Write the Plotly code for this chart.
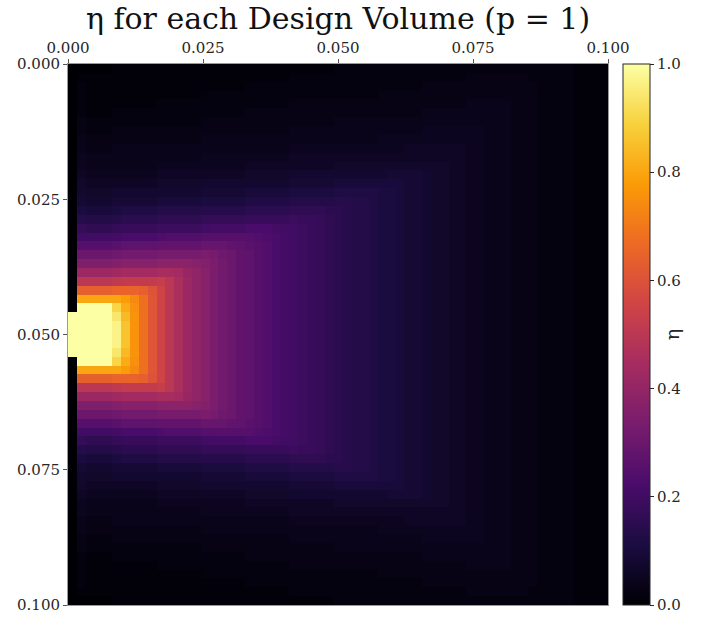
import plotly.graph_objects as go

# Design-volume grid: 61 x 61 cells over a 0.1 x 0.1 domain
n_cells = 61
domain = 0.1

tick_vals = [0.0, 0.025, 0.05, 0.075, 0.1]
tick_text = ["0.000", "0.025", "0.050", "0.075", "0.100"]
cbar_vals = [0.0, 0.2, 0.4, 0.6, 0.8, 1.0]
cbar_text = ["0.0", "0.2", "0.4", "0.6", "0.8", "1.0"]

# η in percent, one row per design-volume row, from the top edge (y = 0)
# down to the centre row (y = 0.05). The field is symmetric about y = 0.05.
eta_half_pct = [
    [0, 0,0,0,0, 1,1,1,1,1, 1,1,1,1,1, 1,1,1,1,1, 1,1,1,1,1, 1,1,1,1,1, 2,2,2,2,2, 2,2,2,2,2, 2,2,2,2,2, 2,2,2,2,2, 2,2,2, 2,2,2,2, 1,1,1,1],
    [0, 1,1,1,1, 1,1,1,1,1, 1,1,1,1,1, 1,1,1,1,1, 1,1,1,1,1, 2,2,2,2,2, 2,2,2,2,2, 2,2,2,2,2, 2,2,2,2,2, 3,3,3,3,3, 3,3,2, 2,2,2,2, 1,1,1,1],
    [0, 2,1,1,1, 1,1,1,1,1, 1,1,1,1,1, 1,1,1,1,1, 2,2,2,2,2, 2,2,2,2,2, 2,2,2,2,2, 2,2,2,2,2, 3,3,3,3,3, 3,3,3,3,3, 3,3,3, 2,2,2,2, 1,1,1,1],
    [0, 2,1,1,1, 1,1,1,1,1, 1,1,1,1,1, 2,2,2,2,2, 2,2,2,2,2, 2,2,2,2,2, 2,2,2,2,2, 3,3,3,3,3, 3,3,3,3,3, 3,3,3,3,3, 3,3,3, 2,2,2,2, 1,1,1,1],
    [0, 2,1,1,1, 1,1,1,1,1, 2,2,2,2,2, 2,2,2,2,2, 2,2,2,2,2, 3,3,3,3,3, 3,3,3,3,3, 3,3,3,3,3, 3,3,3,3,3, 4,4,4,4,4, 3,3,3, 2,2,2,2, 1,1,1,1],
    [0, 2,1,1,1, 2,2,2,2,2, 2,2,2,2,2, 2,2,2,2,2, 3,3,3,3,3, 3,3,3,3,3, 3,3,3,3,3, 3,3,3,3,3, 4,4,4,4,4, 4,4,4,4,4, 3,3,3, 2,2,2,2, 1,1,1,1],
    [0, 3,2,2,2, 2,2,2,2,2, 2,2,2,2,2, 3,3,3,3,3, 3,3,3,3,3, 3,3,3,3,3, 4,4,4,4,4, 4,4,4,4,4, 4,4,4,4,4, 4,4,4,4,4, 3,3,3, 2,2,2,2, 1,1,1,1],
    [0, 3,2,2,2, 3,3,3,3,3, 3,3,3,3,3, 3,3,3,3,3, 3,3,3,3,3, 4,4,4,4,4, 4,4,4,4,4, 4,4,4,4,4, 5,5,5,5,5, 5,5,4,4,4, 3,3,3, 2,2,2,2, 1,1,1,1],
    [0, 4,3,3,3, 3,3,3,3,3, 3,3,3,3,3, 4,4,4,4,4, 4,4,4,4,4, 4,4,4,4,4, 4,4,4,4,4, 5,5,5,5,5, 5,5,5,5,5, 5,5,4,4,4, 3,3,3, 2,2,2,2, 1,1,1,1],
    [0, 4,3,3,3, 4,4,4,4,4, 4,4,4,4,4, 4,4,4,4,4, 4,4,4,4,4, 5,5,5,5,5, 5,5,5,5,5, 5,5,5,6,6, 6,6,6,6,6, 5,5,4,4,4, 3,3,3, 2,2,2,2, 1,1,1,1],
    [0, 5,4,4,4, 4,4,4,4,4, 4,4,4,4,4, 5,5,5,5,5, 5,5,5,5,5, 6,6,6,6,6, 6,6,6,6,6, 6,6,6,6,6, 6,6,6,6,6, 5,5,4,4,4, 3,3,3, 2,2,2,2, 1,1,1,1],
    [0, 5,4,4,4, 4,4,4,4,4, 5,5,5,5,5, 5,5,5,5,5, 6,6,6,6,6, 6,6,6,6,6, 7,7,7,7,7, 7,7,7,7,7, 7,7,7,6,6, 5,5,4,4,4, 3,3,3, 2,2,2,2, 1,1,1,1],
    [0, 6,5,5,5, 5,5,5,5,5, 6,6,6,6,6, 6,6,6,6,6, 7,7,7,7,7, 8,8,8,8,8, 8,8,8,8,8, 8,9,9,9,9, 8,7,7,6,6, 5,5,4,4,4, 3,3,3, 2,2,2,2, 1,1,1,1],
    [0, 7,6,6,6, 6,6,6,6,6, 7,7,7,7,7, 8,8,8,8,8, 8,8,8,8,8, 9,9,9,9,9, 10,10,10,10,10, 10,10,10,9,9, 8,7,7,6,6, 5,5,4,4,4, 3,3,3, 2,2,2,2, 1,1,1,1],
    [0, 8,7,7,7, 8,8,8,8,8, 8,8,8,8,8, 9,9,9,9,9, 10,10,10,10,10, 11,11,11,11,11, 12,12,12,12,12, 11,11,10,9,9, 8,7,7,6,6, 5,5,4,4,4, 3,3,3, 2,2,2,2, 1,1,1,1],
    [0, 9,8,8,8, 9,9,9,9,9, 10,10,10,10,10, 11,11,11,11,11, 12,12,12,12,12, 13,13,13,13,13, 14,14,13,13,12, 11,11,10,9,9, 8,7,7,6,6, 5,5,4,4,4, 3,3,3, 2,2,2,2, 1,1,1,1],
    [0, 11,10,10,10, 11,12,12,12,12, 13,13,13,13,13, 14,14,14,14,14, 15,15,15,15,15, 16,16,16,16,15, 15,14,13,13,12, 11,11,10,9,9, 8,7,7,6,6, 5,5,4,4,4, 3,3,3, 2,2,2,2, 1,1,1,1],
    [0, 14,13,13,13, 14,15,15,15,15, 16,16,16,16,16, 17,17,17,17,17, 18,18,18,18,18, 19,18,18,17,16, 15,14,13,13,12, 11,11,10,9,9, 8,7,7,6,6, 5,5,4,4,4, 3,3,3, 2,2,2,2, 1,1,1,1],
    [0, 17,16,16,16, 17,18,18,18,18, 19,19,19,19,19, 20,21,21,21,21, 22,22,22,21,20, 20,19,18,17,16, 15,14,13,13,12, 11,11,10,9,9, 8,7,7,6,6, 5,5,4,4,4, 3,3,3, 2,2,2,2, 1,1,1,1],
    [0, 20,20,20,20, 21,22,22,22,22, 23,24,24,24,24, 25,25,25,25,25, 25,24,23,22,21, 20,19,18,17,16, 15,14,13,13,12, 11,11,10,9,9, 8,7,7,6,6, 5,5,4,4,4, 3,3,3, 2,2,2,2, 1,1,1,1],
    [0, 25,25,25,25, 26,27,27,27,27, 28,28,28,28,28, 29,29,29,28,27, 26,25,24,22,21, 20,19,18,17,16, 15,14,13,13,12, 11,11,10,9,9, 8,7,7,6,6, 5,5,4,4,4, 3,3,3, 2,2,2,2, 1,1,1,1],
    [0, 30,30,30,30, 31,32,32,32,32, 33,33,33,33,33, 34,33,31,30,28, 27,25,24,22,21, 20,19,18,17,16, 15,14,13,13,12, 11,11,10,9,9, 8,7,7,6,6, 5,5,4,4,4, 3,3,3, 2,2,2,2, 1,1,1,1],
    [0, 35,35,35,35, 36,37,37,37,37, 38,38,38,38,37, 36,34,32,30,28, 27,25,24,22,21, 20,19,18,17,16, 15,14,13,13,12, 11,11,10,9,9, 8,7,7,6,6, 5,5,4,4,4, 3,3,3, 2,2,2,2, 1,1,1,1],
    [0, 42,42,42,42, 43,44,44,44,44, 45,45,44,41,39, 37,34,32,30,28, 27,25,24,22,21, 20,19,18,17,16, 15,14,13,13,12, 11,11,10,9,9, 8,7,7,6,6, 5,5,4,4,4, 3,3,3, 2,2,2,2, 1,1,1,1],
    [0, 50,50,50,50, 51,52,52,52,52, 53,50,46,42,39, 37,34,32,30,28, 27,25,24,22,21, 20,19,18,17,16, 15,14,13,13,12, 11,11,10,9,9, 8,7,7,6,6, 5,5,4,4,4, 3,3,3, 2,2,2,2, 1,1,1,1],
    [0, 64,64,64,64, 65,65,65,64,60, 55,50,46,42,39, 37,34,32,30,28, 27,25,24,22,21, 20,19,18,17,16, 15,14,13,13,12, 11,11,10,9,9, 8,7,7,6,6, 5,5,4,4,4, 3,3,3, 2,2,2,2, 1,1,1,1],
    [0, 80,80,80,80, 80,78,74,68,61, 55,50,46,42,39, 37,34,32,30,28, 27,25,24,22,21, 20,19,18,17,16, 15,14,13,13,12, 11,11,10,9,9, 8,7,7,6,6, 5,5,4,4,4, 3,3,3, 2,2,2,2, 1,1,1,1],
    [0, 100,100,100,100, 90,81,75,68,61, 55,50,46,42,39, 37,34,32,30,28, 27,25,24,22,21, 20,19,18,17,16, 15,14,13,13,12, 11,11,10,9,9, 8,7,7,6,6, 5,5,4,4,4, 3,3,3, 2,2,2,2, 1,1,1,1],
    [100, 100,100,100,100, 94,84,76,68,61, 55,50,46,42,39, 37,34,32,30,28, 27,25,24,22,21, 20,19,18,17,16, 15,14,13,13,12, 11,11,10,9,9, 8,7,7,6,6, 5,5,4,4,4, 3,3,3, 2,2,2,2, 1,1,1,1],
    [100, 100,100,100,100, 97,86,76,68,61, 55,50,46,42,39, 37,34,32,30,28, 27,25,24,22,21, 20,19,18,17,16, 15,14,13,13,12, 11,11,10,9,9, 8,7,7,6,6, 5,5,4,4,4, 3,3,3, 2,2,2,2, 1,1,1,1],
    [100, 100,100,100,100, 97,86,76,68,61, 55,50,46,42,39, 37,34,32,30,28, 27,25,24,22,21, 20,19,18,17,16, 15,14,13,13,12, 11,11,10,9,9, 8,7,7,6,6, 5,5,4,4,4, 3,3,3, 2,2,2,2, 1,1,1,1],
]

# mirror the upper half (without repeating the centre row) to get the lower half
eta_rows = eta_half_pct + eta_half_pct[-2::-1]
eta = [[v / 100.0 for v in row] for row in eta_rows]

cell = domain / n_cells
x_centres = [(i + 0.5) * cell for i in range(n_cells)]
y_centres = [(j + 0.5) * cell for j in range(n_cells)]

serif = "DejaVu Serif"
ink = "#262626"

fig = go.Figure(
    go.Heatmap(
        z=eta,
        x=x_centres,
        y=y_centres,
        zmin=0.0,
        zmax=1.0,
        colorscale="Inferno",
        colorbar=dict(
            title=dict(text="η", side="right", font=dict(family=serif, size=19, color=ink)),
            tickvals=cbar_vals,
            ticktext=cbar_text,
            ticks="outside",
            ticklen=4,
            tickcolor=ink,
            tickfont=dict(family=serif, size=15, color=ink),
            thickness=27,
            len=1.0,
            lenmode="fraction",
            x=1.028,
            xanchor="left",
            xpad=0,
            y=0.5,
            yanchor="middle",
            ypad=0,
            outlinecolor=ink,
            outlinewidth=1,
        ),
    )
)

axis_common = dict(
    tickvals=tick_vals,
    ticktext=tick_text,
    ticks="outside",
    ticklen=4,
    tickcolor="#555",
    tickfont=dict(family=serif, size=15, color=ink),
    showgrid=False,
    zeroline=False,
    showline=True,
    linecolor="#999",
    linewidth=1,
    mirror=True,
)

fig.update_layout(
    width=716,
    height=619,
    margin=dict(l=68, r=108, t=64, b=14, autoexpand=False),
    paper_bgcolor="white",
    plot_bgcolor="white",
    title=dict(
        text="η for each Design Volume (p = 1)",
        font=dict(family=serif, size=30, color="#111"),
        x=0.5,
        xref="paper",
        xanchor="center",
        y=1 - 18 / 619,
        yref="container",
        yanchor="middle",
    ),
    xaxis=dict(range=[0, domain], side="top", **axis_common),
    yaxis=dict(range=[domain, 0], **axis_common),
)

fig.write_html("out.html")
